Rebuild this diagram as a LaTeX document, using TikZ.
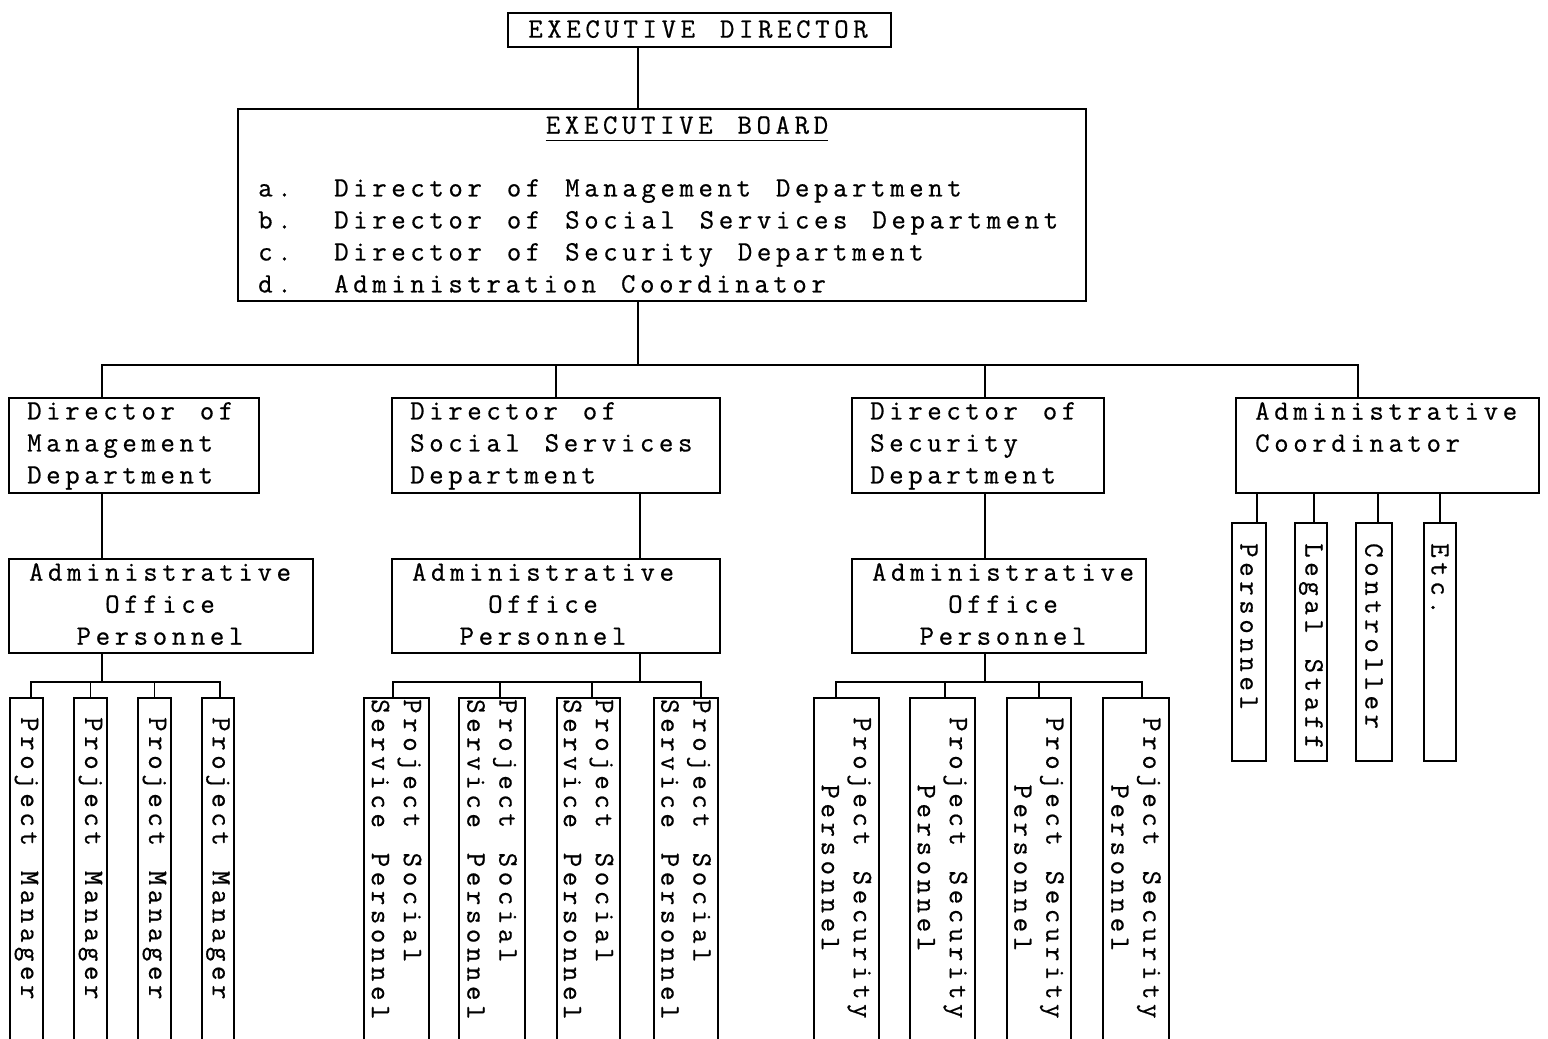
\documentclass[tikz,border=0pt]{standalone}
\usepackage{fontspec}
\newfontfamily\tw[LetterSpace=16.5,WordSpace=1.31,FakeBold=0.6]{Latin Modern Mono}
\begin{document}
\begin{tikzpicture}[x=1pt,y=-1pt,
  lw/.style={line width=1.9pt},
  box/.style={draw,line width=1.9pt,inner sep=0pt,anchor=north west},
  txt/.style={inner sep=0pt,font=\tw\fontsize{28}{32}\selectfont},
  up/.style={txt,rotate=-90,anchor=west}]
\path[use as bounding box] (0,0) rectangle (1548,1039);
\clip (0,0) rectangle (1548,1039);
\fill[white] (0,0) rectangle (1548,1039);
% main boxes
\node[box,minimum width=383pt,minimum height=34pt] (ed) at (507,12) {};
\node[box,minimum width=848pt,minimum height=192pt] (eb) at (237,108) {};
\node[box,minimum width=250pt,minimum height=95pt] (dm) at (8,397) {};
\node[box,minimum width=328pt,minimum height=95pt] (ds) at (391,397) {};
\node[box,minimum width=252pt,minimum height=95pt] (dx) at (851,397) {};
\node[box,minimum width=303pt,minimum height=95pt] (ac) at (1235,397) {};
\node[box,minimum width=304pt,minimum height=94pt] (am) at (8,558) {};
\node[box,minimum width=328pt,minimum height=94pt] (as) at (391,558) {};
\node[box,minimum width=294pt,minimum height=94pt] (ax) at (851,558) {};
% leaf boxes
\node[box,minimum width=33pt,minimum height=380pt] (pm1) at (9,697) {};
\node[box,minimum width=33pt,minimum height=380pt] (pm2) at (73,697) {};
\node[box,minimum width=33pt,minimum height=380pt] (pm3) at (137,697) {};
\node[box,minimum width=32pt,minimum height=380pt] (pm4) at (201,697) {};
\node[box,minimum width=65pt,minimum height=380pt] (ss1) at (363,697) {};
\node[box,minimum width=66pt,minimum height=380pt] (ss2) at (458,697) {};
\node[box,minimum width=63pt,minimum height=380pt] (ss3) at (556,697) {};
\node[box,minimum width=64pt,minimum height=380pt] (ss4) at (653,697) {};
\node[box,minimum width=65pt,minimum height=380pt] (sx1) at (813,697) {};
\node[box,minimum width=65pt,minimum height=380pt] (sx2) at (909,697) {};
\node[box,minimum width=64pt,minimum height=380pt] (sx3) at (1006,697) {};
\node[box,minimum width=66pt,minimum height=380pt] (sx4) at (1102,697) {};
\node[box,minimum width=34pt,minimum height=238pt] (ap1) at (1231,522) {};
\node[box,minimum width=32pt,minimum height=238pt] (ap2) at (1294,522) {};
\node[box,minimum width=36pt,minimum height=238pt] (ap3) at (1355,522) {};
\node[box,minimum width=32pt,minimum height=238pt] (ap4) at (1423,522) {};
% texts
\node[txt,anchor=north] (edt) at (698,20) {EXECUTIVE DIRECTOR};
\node[txt,anchor=north] (ebt) at (687,116) {EXECUTIVE BOARD};
\draw[line width=1.3pt] ([yshift=-7pt]ebt.base west) -- ([yshift=-7pt]ebt.base east);
\node[txt,anchor=north west,align=left] (ebl) at (258,179)
  {\makebox[76pt][l]{a.}Director of Management Department\\
   \makebox[76pt][l]{b.}Director of Social Services Department\\
   \makebox[76pt][l]{c.}Director of Security Department\\
   \makebox[76pt][l]{d.}Administration Coordinator};
\node[txt,anchor=north west,align=left] (dmt) at (27,402) {Director of\\Management\\Department};
\node[txt,anchor=north west,align=left] (dst) at (410,402) {Director of\\Social Services\\Department};
\node[txt,anchor=north west,align=left] (dxt) at (870,402) {Director of\\Security\\Department};
\node[txt,anchor=north west,align=left] (act) at (1255,402) {Administrative\\Coordinator};
\node[txt,anchor=north,align=center] (amt) at (160,563) {Administrative\\Office\\Personnel};
\node[txt,anchor=north,align=center] (ast) at (543,563) {Administrative\\Office\\Personnel};
\node[txt,anchor=north,align=center] (axt) at (1003,563) {Administrative\\Office\\Personnel};
\foreach \n in {pm1,pm2,pm3,pm4}
  \node[up] (\n t) at ([yshift=-20pt]\n.north) {Project Manager};
\foreach \n in {ss1,ss2,ss3,ss4}
  \node[up,align=left] (\n t) at ([yshift=-2pt]\n.north) {Project Social\\Service Personnel};
\foreach \n in {sx1,sx2,sx3,sx4}
  \node[up,align=center] (\n t) at ([yshift=-20pt]\n.north) {Project Security\\Personnel};
\node[up] (ap1t) at ([yshift=-21pt]ap1.north) {Personnel};
\node[up] (ap2t) at ([yshift=-21pt]ap2.north) {Legal Staff};
\node[up] (ap3t) at ([yshift=-21pt]ap3.north) {Controller};
\node[up] (ap4t) at ([yshift=-21pt]ap4.north) {Etc.};
% connector coordinates
\coordinate (ya) at (0,365);
\coordinate (yb) at (0,682);
\coordinate (c1) at (102,0);
\coordinate (c2) at (638,0);
\coordinate (c4) at (1358,0);
\coordinate (c5) at (985,0);
\coordinate (c6) at (640,0);
% connectors
\draw[lw] (ed.south -| c2) -- (eb.north -| c2);
\draw[lw] (eb.south -| c2) -- (c2 |- ya);
\draw[lw] (dm.north -| c1) -- (c1 |- ya) -- (c4 |- ya) -- (ac.north -| c4);
\draw[lw] (ds.north) -- (ds.north |- ya);
\draw[lw] (dx.north -| c5) -- (c5 |- ya);
\draw[lw] (dm.south -| c1) -- (am.north -| c1);
\draw[lw] (ds.south -| c6) -- (as.north -| c6);
\draw[lw] (dx.south -| c5) -- (ax.north -| c5);
\draw[lw] (am.south -| c1) -- (c1 |- yb);
\draw[lw] (as.south -| c6) -- (c6 |- yb);
\draw[lw] (ax.south -| c5) -- (c5 |- yb);
% management leaves
\draw[lw] ([xshift=4.5pt]pm1.north) -- ([xshift=4.5pt]pm1.north |- yb) -- ([xshift=2pt]pm4.north |- yb) -- ([xshift=2pt]pm4.north);
\draw[lw] (pm2.north) -- (pm2.north |- yb);
\draw[lw] (pm3.north) -- (pm3.north |- yb);
% social leaves
\draw[lw] ([xshift=-3.5pt]ss1.north) -- ([xshift=-3.5pt]ss1.north |- yb) -- ([xshift=15pt]ss4.north |- yb) -- ([xshift=15pt]ss4.north);
\draw[lw] ([xshift=8pt]ss2.north) -- ([xshift=8pt]ss2.north |- yb);
\draw[lw] ([xshift=3.5pt]ss3.north) -- ([xshift=3.5pt]ss3.north |- yb);
% security leaves
\draw[lw] ([xshift=-10.5pt]sx1.north) -- ([xshift=-10.5pt]sx1.north |- yb) -- ([xshift=6pt]sx4.north |- yb) -- ([xshift=6pt]sx4.north);
\draw[lw] ([xshift=2.5pt]sx2.north) -- ([xshift=2.5pt]sx2.north |- yb);
\draw[lw] (sx3.north) -- (sx3.north |- yb);
% coordinator leaves
\draw[lw] ([xshift=8pt]ap1.north) -- ([xshift=8pt]ap1.north |- ac.south);
\draw[lw] ([xshift=3pt]ap2.north) -- ([xshift=3pt]ap2.north |- ac.south);
\draw[lw] ([xshift=4pt]ap3.north) -- ([xshift=4pt]ap3.north |- ac.south);
\draw[lw] (ap4.north) -- (ap4.north |- ac.south);
\end{tikzpicture}
\end{document}
